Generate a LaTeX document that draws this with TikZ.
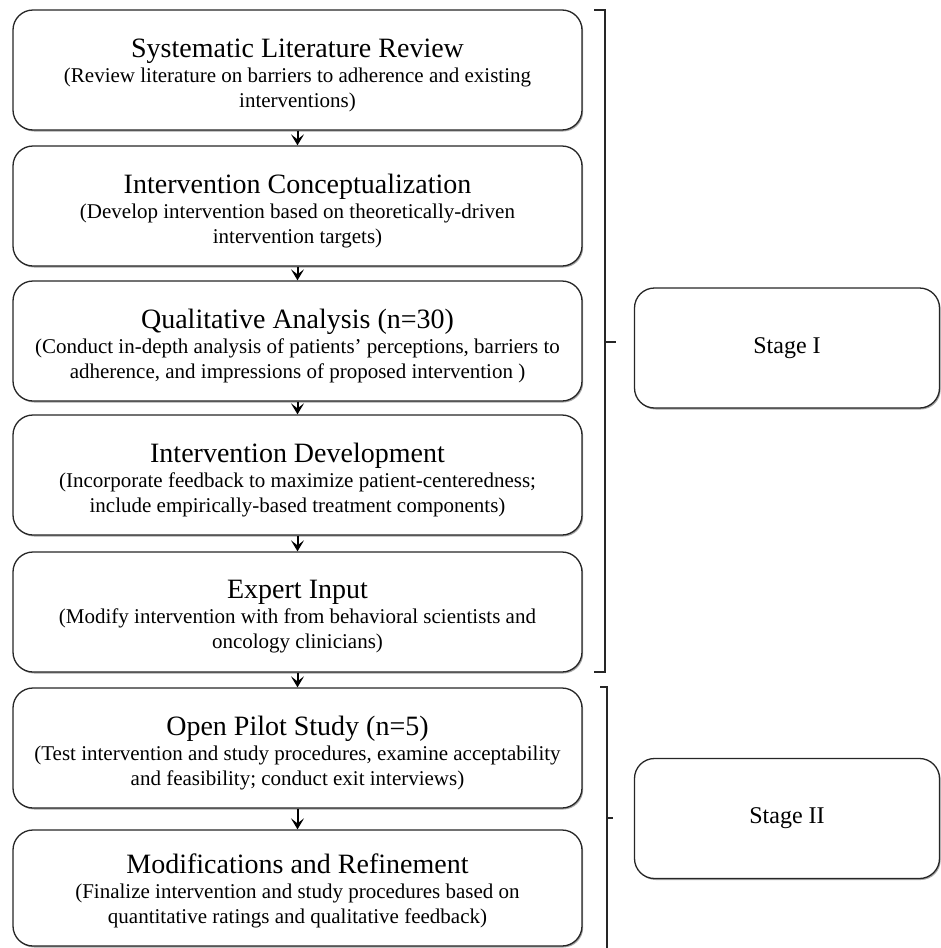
\documentclass[tikz,border=0pt]{standalone}
\usepackage{fontspec}
\setmainfont{Liberation Serif}
\usetikzlibrary{arrows.meta,shadows}
\begin{document}
\begin{tikzpicture}[x=1pt,y=1pt,
  stepbox/.style={draw=black!85, line width=1.3pt, rounded corners=20pt, fill=white,
    minimum width=569pt, minimum height=120pt, inner sep=0pt,
    drop shadow={shadow xshift=1.2pt, shadow yshift=-1.5pt, opacity=0.35, fill=black}},
  steptext/.style={align=center, inner sep=0pt, font=\fontsize{21}{25}\selectfont},
  stagebox/.style={draw=black!85, line width=1.3pt, rounded corners=20pt, fill=white,
    minimum width=305pt, minimum height=120pt, inner sep=0pt, align=center,
    font=\fontsize{24}{28}\selectfont,
    drop shadow={shadow xshift=1.2pt, shadow yshift=-1.5pt, opacity=0.35, fill=black}},
  arr/.style={line width=2pt, draw=black, -{Stealth[length=11pt,width=13pt,inset=5pt]}},
  brk/.style={line width=1.3pt, draw=black!85}
]
\useasboundingbox (0,0) rectangle (941,-948);

\node[stepbox] (b1) at (297.5,-70) {};
\node[stepbox] (b2) at (297.5,-206) {};
\node[stepbox] (b3) at (297.5,-341) {};
\node[stepbox] (b4) at (297.5,-475) {};
\node[stepbox] (b5) at (297.5,-612) {};
\node[stepbox] (b6) at (297.5,-748) {};
\node[stepbox, minimum height=116pt] (b7) at (297.5,-888) {};

\node[steptext] (t1) at ([yshift=-5pt]b1.center) {{\fontsize{28}{25}\selectfont Systematic Literature Review}\\(Review literature on barriers to adherence and existing\\interventions)};
\node[steptext] (t2) at ([yshift=-5pt]b2.center) {{\fontsize{28}{25}\selectfont Intervention Conceptualization}\\(Develop intervention based on theoretically-driven\\intervention targets)};
\node[steptext] (t3) at ([yshift=-5pt]b3.center) {{\fontsize{28}{25}\selectfont Qualitative Analysis (n=30)}\\(Conduct in-depth analysis of patients’ perceptions, barriers to\\adherence, and impressions of proposed intervention )};
\node[steptext] (t4) at ([yshift=-5pt]b4.center) {{\fontsize{28}{25}\selectfont Intervention Development}\\(Incorporate feedback to maximize patient-centeredness;\\include empirically-based treatment components)};
\node[steptext] (t5) at ([yshift=-5pt]b5.center) {{\fontsize{28}{25}\selectfont Expert Input}\\(Modify intervention with from behavioral scientists and\\oncology clinicians)};
\node[steptext] (t6) at ([yshift=-5pt]b6.center) {{\fontsize{28}{25}\selectfont Open Pilot Study (n=5)}\\(Test intervention and study procedures, examine acceptability\\and feasibility; conduct exit interviews)};
\node[steptext] (t7) at ([yshift=-3pt]b7.center) {{\fontsize{28}{25}\selectfont Modifications and Refinement}\\(Finalize intervention and study procedures based on\\quantitative ratings and qualitative feedback)};

\node[stagebox] (s1) at (787,-348) {Stage I};
\node[stagebox] (s2) at (787,-818.5) {Stage II};

\draw[arr] (b1.south) -- (b2.north);
\draw[arr] (b2.south) -- (b3.north);
\draw[arr] (b3.south) -- (b4.north);
\draw[arr] (b4.south) -- (b5.north);
\draw[arr] (b5.south) -- (b6.north);
\draw[arr] (b6.south) -- (b7.north);

% Stage I bracket
\coordinate (k1a) at (594,-10);
\coordinate (k1b) at (605,-10);
\coordinate (k1c) at (605,-672);
\coordinate (k1d) at (594,-672);
\coordinate (k1m) at (605,-342);
\coordinate (k1t) at (616,-342);
\draw[brk] (k1a) -- (k1b) -- (k1c) -- (k1d);
\draw[brk] (k1m) -- (k1t);

% Stage II bracket
\coordinate (k2a) at (600,-687);
\coordinate (k2b) at (607,-687);
\coordinate (k2c) at (607,-950);
\coordinate (k2m) at (607,-818);
\coordinate (k2t) at (613,-818);
\draw[brk] (k2a) -- (k2b) -- (k2c);
\draw[brk] (k2m) -- (k2t);
\end{tikzpicture}
\end{document}
